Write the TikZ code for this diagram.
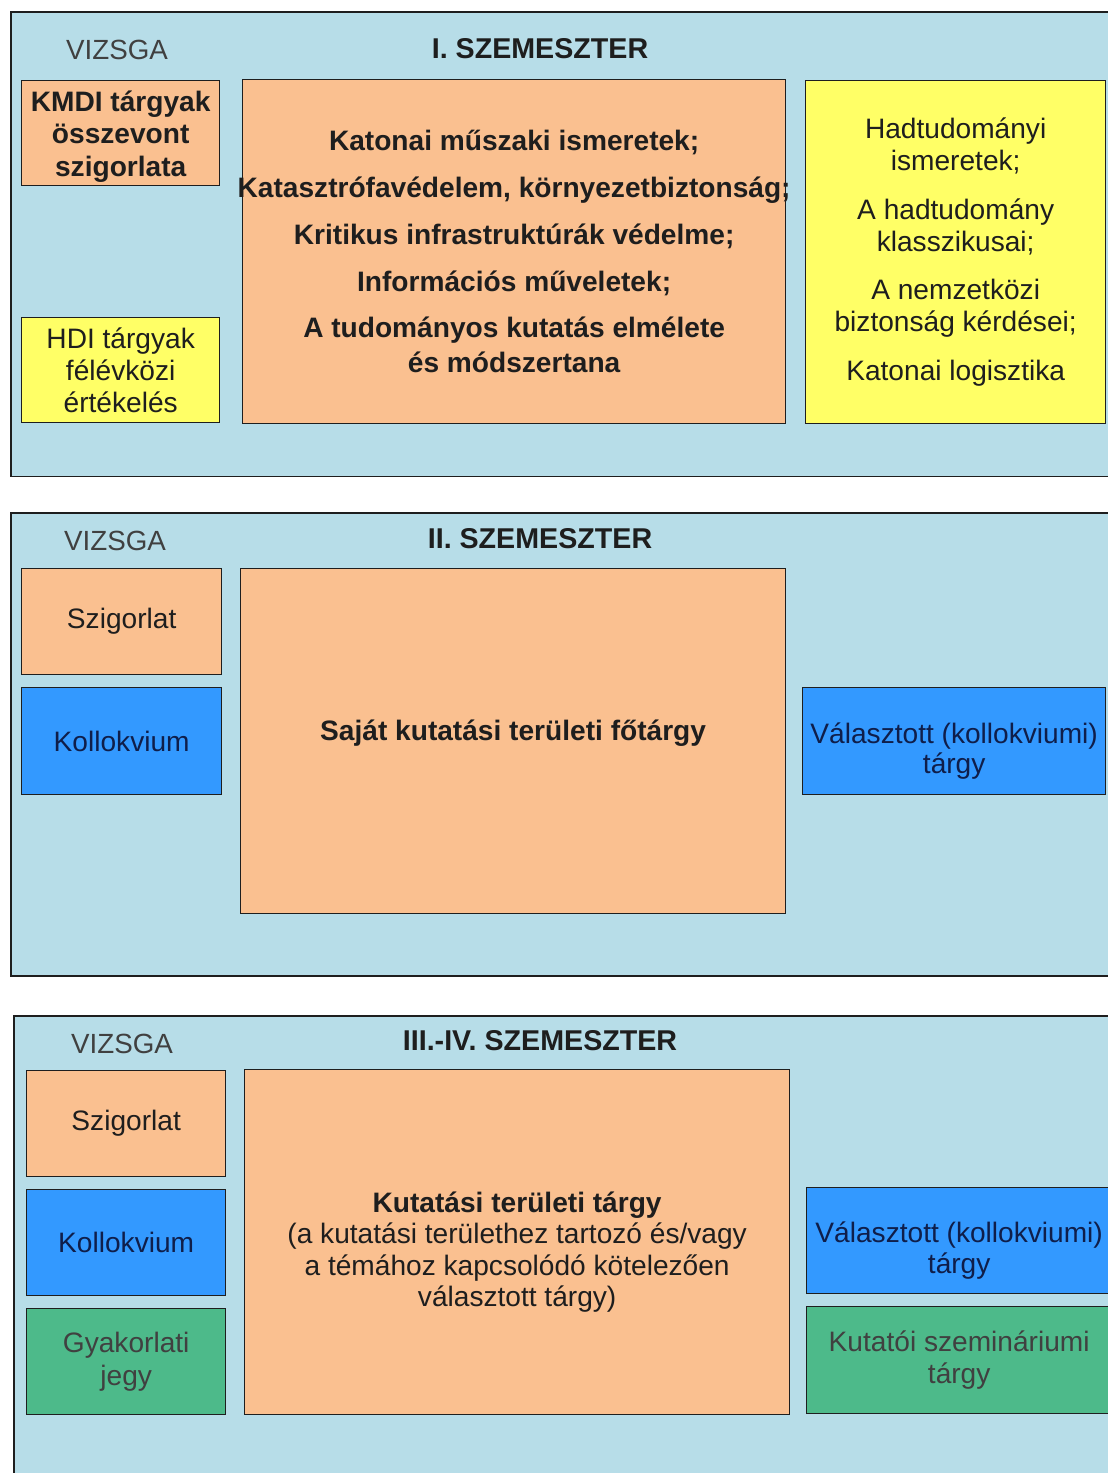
\documentclass[tikz,border=0pt]{standalone}
\usepackage{fontspec}
\setmainfont{Liberation Sans}
\usepackage{xcolor}
\usepackage{tikz}
\usetikzlibrary{positioning}
\definecolor{panelbg}{HTML}{B7DDE8}
\definecolor{peach}{HTML}{FAC090}
\definecolor{lemon}{HTML}{FFFF66}
\definecolor{azure}{HTML}{3399FF}
\definecolor{jade}{HTML}{4DBA8A}
\definecolor{ink}{HTML}{1E1E1E}
\definecolor{navyink}{HTML}{0F1E4A}
\newcommand{\lowerby}[1]{\rule{0pt}{#1}}

\begin{document}
\begin{tikzpicture}[
x=0.02cm,y=-0.02cm,
panel/.style={draw=ink,line width=0.9pt,fill=panelbg,anchor=north west,inner sep=0pt},
box/.style={draw=ink,line width=0.8pt,anchor=north west,align=center,inner sep=0pt,text=ink,font=\fontsize{16}{19.8}\selectfont},
orange/.style={box,fill=peach},
yellow/.style={box,fill=lemon},
blue/.style={box,fill=azure,text=navyink},
green/.style={box,fill=jade,text=ink!85},
head/.style={font=\fontsize{16.3}{18}\selectfont\bfseries,text=ink},
exam/.style={font=\fontsize{15.8}{18}\selectfont,text=ink!85}
]
\useasboundingbox[fill=white] (0,0) rectangle (1108,1473);
\begin{scope}
\clip (0,0) rectangle (1108,1473);
% panels
\node[panel,minimum width=22.2cm,minimum height=9.30cm] (sem1) at (10,11) {};
\node[panel,minimum width=22.2cm,minimum height=9.26cm] (sem2) at (10,512) {};
\node[panel,minimum width=22.2cm,minimum height=9.60cm] (sem3) at (13,1015) {};
\end{scope}

% I. szemeszter
\node[exam] (vizsga1) at (117,50) {VIZSGA};
\node[head] (title1) at (540,49) {I. SZEMESZTER};
\node[orange,minimum width=3.96cm,minimum height=2.10cm,font=\fontsize{16}{18.5}\selectfont\bfseries] (kmdi) at (21,80) {\lowerby{15.5pt}KMDI tárgyak\\összevont\\szigorlata};
\node[yellow,minimum width=3.96cm,minimum height=2.10cm,font=\fontsize{16}{18.2}\selectfont] (hdi) at (21,317) {HDI tárgyak\\félévközi\\értékelés};
\node[orange,minimum width=10.86cm,minimum height=6.88cm,font=\fontsize{16}{19.8}\selectfont\bfseries] (core1) at (242,79) {Katonai műszaki ismeretek;\\[6.8pt]
\makebox[10.4cm]{Katasztrófavédelem, környezetbiztonság;}\\[6.8pt]
Kritikus infrastruktúrák védelme;\\[6.8pt]
Információs műveletek;\\[6.8pt]
A tudományos kutatás elmélete\\és módszertana};
\node[yellow,minimum width=6.00cm,minimum height=6.86cm,font=\fontsize{16}{18.1}\selectfont] (hadtud) at (805,80) {Hadtudományi\\ismeretek;\\[9.7pt]
A hadtudomány\\klasszikusai;\\[9.7pt]
A nemzetközi\\biztonság kérdései;\\[9.7pt]
Katonai logisztika};

% II. szemeszter
\node[exam] (vizsga2) at (115,541) {VIZSGA};
\node[head] (title2) at (540,539) {II. SZEMESZTER};
\node[orange,minimum width=4.00cm,minimum height=2.12cm] (szig2) at (21,568) {Szigorlat};
\node[blue,minimum width=4.00cm,minimum height=2.14cm] (koll2) at (21,687) {Kollokvium};
\node[orange,minimum width=10.90cm,minimum height=6.90cm,font=\fontsize{16}{19}\selectfont\bfseries] (core2) at (240,568) {Saját kutatási területi főtárgy\\[-6.5pt]};
\node[blue,minimum width=6.06cm,minimum height=2.14cm,font=\fontsize{16}{17.6}\selectfont] (valasz2) at (802,687) {\lowerby{23pt}Választott (kollokviumi)\\tárgy};

% III.-IV. szemeszter
\node[exam] (vizsga3) at (122,1044) {VIZSGA};
\node[head] (title3) at (540,1041) {III.-IV. SZEMESZTER};
\node[orange,minimum width=3.98cm,minimum height=2.12cm] (szig3) at (26,1070) {Szigorlat};
\node[blue,minimum width=3.98cm,minimum height=2.12cm] (koll3) at (26,1189) {Kollokvium};
\node[green,minimum width=3.98cm,minimum height=2.12cm,font=\fontsize{16}{19.3}\selectfont] (gyak3) at (26,1308) {Gyakorlati\\jegy};
\node[orange,minimum width=10.90cm,minimum height=6.90cm,font=\fontsize{16}{17.8}\selectfont] (core3) at (244,1069) {\lowerby{23pt}\textbf{Kutatási területi tárgy}\\
(a kutatási területhez tartozó és/vagy\\
a témához kapcsolódó kötelezően\\
választott tárgy)};
\node[blue,minimum width=6.10cm,minimum height=2.12cm,font=\fontsize{16}{17.6}\selectfont] (valasz3) at (806,1187) {\lowerby{23pt}Választott (kollokviumi)\\tárgy};
\node[green,minimum width=6.10cm,minimum height=2.14cm,font=\fontsize{16}{18.2}\selectfont] (szem3) at (806,1306) {Kutatói szemináriumi\\tárgy};
\end{tikzpicture}
\end{document}
